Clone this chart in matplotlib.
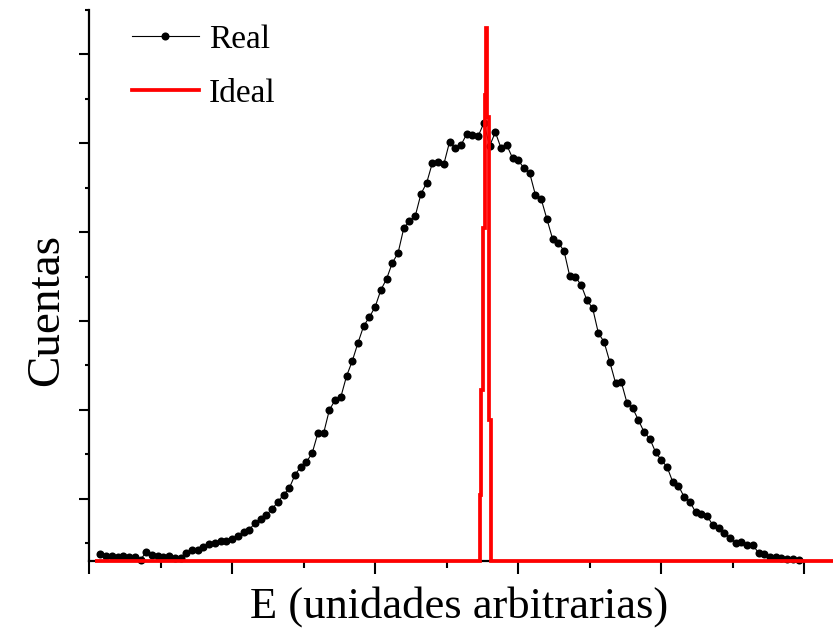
import matplotlib
matplotlib.use("Agg")
import matplotlib.pyplot as plt
from matplotlib.ticker import MultipleLocator, FixedLocator, NullFormatter

# Measured spectrum: channel numbers and counts per channel
real_channel = list(range(2, 125))
real_counts = [
    16, 11, 11, 9, 11, 9, 9, 3, 20, 14,
    11, 9, 11, 7, 7, 18, 25, 25, 32, 38,
    41, 45, 45, 50, 56, 65, 70, 86, 95, 104,
    117, 133, 149, 164, 194, 212, 223, 243, 288, 288,
    340, 362, 369, 416, 450, 491, 529, 549, 572, 610,
    635, 671, 693, 749, 765, 776, 826, 851, 896, 898,
    893, 943, 929, 936, 961, 959, 956, 986, 934, 965,
    929, 936, 907, 902, 884, 873, 824, 815, 770, 725,
    716, 698, 641, 639, 621, 587, 569, 513, 493, 448,
    401, 403, 356, 344, 317, 290, 275, 245, 227, 212,
    178, 169, 144, 133, 110, 106, 101, 81, 74, 63,
    52, 41, 43, 36, 36, 18, 16, 9, 9, 7,
    5, 5, 2,
]

# Ideal spectrum: bin edges (channels) and counts per bin
ideal_edges = [1.0, 68.27, 68.53, 68.88, 69.14, 69.37, 69.55, 69.84, 70.19, 130.0]
ideal_counts = [0, 149, 385, 749, 1049, 1199, 999, 317, 0]

# Axis ranges and tick positions
x_range = (0, 130)
y_range = (0, 1240)
x_major_step = 25
x_minor_step = 12.5
y_major_ticks = [140, 340, 540, 740, 940, 1140]
y_minor_ticks = [40, 240, 440, 640, 840, 1040, 1240]

serif = ["Liberation Serif", "DejaVu Serif"]

W, H = 833, 631
fig = plt.figure(figsize=(W / 100, H / 100), dpi=100)
ax = fig.add_axes([89 / W, 70 / H, 744 / W, 551 / H])

ax.plot(real_channel, real_counts, color="black", lw=0.8, marker="o",
        markersize=5.8, markeredgewidth=0, label="Real", clip_on=False, zorder=3)
ax.stairs(ideal_counts, ideal_edges, color="#ff0000", lw=2.7,
          label="Ideal", clip_on=False, zorder=4)

ax.set_xlim(*x_range)
ax.set_ylim(*y_range)

for side in ("top", "right"):
    ax.spines[side].set_visible(False)
for side in ("left", "bottom"):
    ax.spines[side].set_linewidth(1.6)
    ax.spines[side].set_color("black")

ax.xaxis.set_major_locator(MultipleLocator(x_major_step))
ax.xaxis.set_minor_locator(MultipleLocator(x_minor_step))
ax.yaxis.set_major_locator(FixedLocator(y_major_ticks))
ax.yaxis.set_minor_locator(FixedLocator(y_minor_ticks))
for axis in (ax.xaxis, ax.yaxis):
    axis.set_major_formatter(NullFormatter())
    axis.set_minor_formatter(NullFormatter())

ax.tick_params(axis="x", which="major", direction="out", length=9.5, width=1.5)
ax.tick_params(axis="x", which="minor", direction="out", length=5, width=1.5)
ax.tick_params(axis="y", which="major", direction="out", length=7, width=1.5)
ax.tick_params(axis="y", which="minor", direction="out", length=3, width=1.5)

fig.text(459 / W, 1 - 607 / H, "E (unidades arbitrarias)", ha="center",
         va="center", fontsize=32, family=serif)
fig.text(47 / W, 1 - 310 / H, "Cuentas", ha="center", va="center",
         rotation=90, fontsize=34, family=serif)

leg = ax.legend(loc="upper left", bbox_to_anchor=(132 / W, 1 - 24 / H),
                bbox_transform=fig.transFigure, frameon=False, borderpad=0,
                borderaxespad=0, handlelength=2.0, handletextpad=0.3,
                labelspacing=0.72, numpoints=1,
                prop={"family": serif, "size": 24})

fig.savefig("out.png", dpi=100)
